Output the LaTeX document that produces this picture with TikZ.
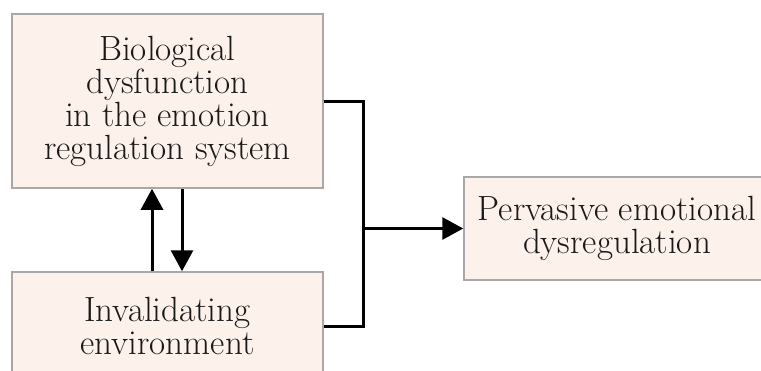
\documentclass[tikz,border=0pt]{standalone}
\usetikzlibrary{arrows.meta}
\definecolor{boxfill}{HTML}{FCF1EB}
\definecolor{boxline}{HTML}{A8A8A8}
\definecolor{txt}{HTML}{1A1A1A}
\begin{document}
\begin{tikzpicture}[x=1pt,y=1pt,
  box/.style={draw=boxline,line width=1.5pt,fill=boxfill,align=center,inner sep=0pt,
    text=txt,font=\fontsize{35}{33}\selectfont},
  conn/.style={line width=3pt,draw=black},
  arr/.style={conn,-{Triangle[length=21pt,width=22pt]}}]
\useasboundingbox (0,0) rectangle (761,-370);
\clip (0,0) rectangle (761,-370);
\node[box,minimum width=311pt,minimum height=174pt] (bio) at (167.5,-101)
  {Biological\\dysfunction\\in the emotion\\regulation system};
\node[box,minimum width=311pt,minimum height=108pt] (inv) at (167.5,-326)
  {Invalidating\\environment};
\node[box,minimum width=306pt,minimum height=103pt] (perv) at (617,-228.5)
  {Pervasive emotional\\dysregulation};
\draw[arr] ([xshift=-15.5pt]inv.north) -- ([xshift=-15.5pt]bio.south);
\draw[arr] ([xshift=14.5pt]bio.south) -- ([xshift=14.5pt]inv.north);
\draw[conn] (bio.east) -- ++(40,0) coordinate (jt) |- (inv.east);
\coordinate (j) at (jt |- perv.west);
\draw[arr] (j) -- (perv.west);
\end{tikzpicture}
\end{document}
